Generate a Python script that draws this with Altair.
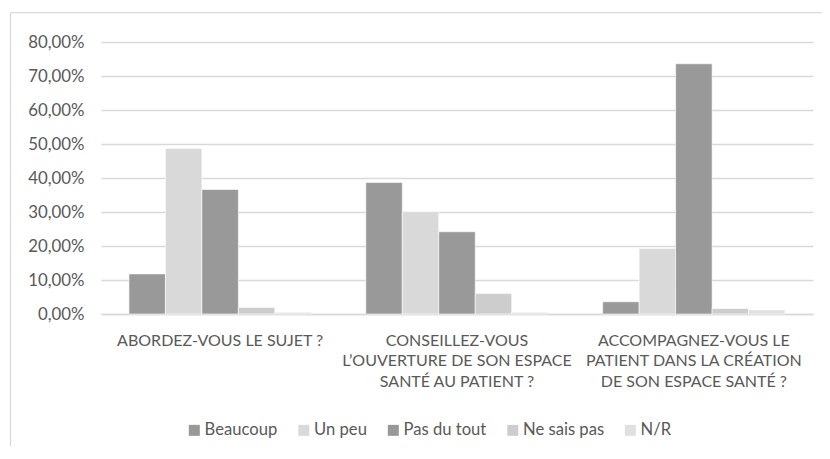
import altair as alt
import pandas as pd

# Categories (x-axis tick labels, '|' marks line breaks)
categories = [
    "ABORDEZ-VOUS LE SUJET ?",
    "CONSEILLEZ-VOUS|L’OUVERTURE DE SON ESPACE|SANTÉ AU PATIENT ?",
    "ACCOMPAGNEZ-VOUS LE|PATIENT DANS LA CRÉATION|DE SON ESPACE SANTÉ ?",
]
series = ["Beaucoup", "Un peu", "Pas du tout", "Ne sais pas", "N/R"]

# Series values (percent)
beaucoup = [11.8, 38.7, 3.6]
un_peu = [48.7, 30.1, 19.3]
pas_du_tout = [36.6, 24.2, 73.6]
ne_sais_pas = [1.9, 6.0, 1.6]
n_r = [0.5, 0.5, 1.2]

colors = ["#999999", "#d9d9d9", "#999999", "#cdcdcd", "#e0e0e0"]
y_ticks = [0.0, 0.1, 0.2, 0.3, 0.4, 0.5, 0.6, 0.7, 0.8]

values = [beaucoup, un_peu, pas_du_tout, ne_sais_pas, n_r]
rows = []
for s, vals in zip(series, values):
    for c, v in zip(categories, vals):
        rows.append({"question": c, "serie": s, "valeur": v / 100})
df = pd.DataFrame(rows)

TXT = "#595959"
GRID = "#d9d9d9"
FONT = "Lato"

bars = alt.Chart(df).mark_bar(stroke="white", strokeWidth=0.6).encode(
    x=alt.X(
        "question:N",
        sort=categories,
        scale=alt.Scale(paddingInner=0.23, paddingOuter=0.118),
        axis=alt.Axis(
            title=None,
            labelExpr="split(datum.label, '|')",
            labelAngle=0,
            labelFont=FONT,
            labelFontSize=16,
            labelColor=TXT,
            labelLineHeight=20.5,
            labelBaseline="top",
            labelPadding=18,
            labelLimit=0,
            ticks=False,
            domainColor=GRID,
            domainWidth=1.3,
        ),
    ),
    xOffset=alt.XOffset(
        "serie:N", sort=series, scale=alt.Scale(paddingInner=0, paddingOuter=0)
    ),
    y=alt.Y(
        "valeur:Q",
        scale=alt.Scale(domain=[0, 0.8], nice=False),
        axis=alt.Axis(
            title=None,
            values=y_ticks,
            labelExpr="replace(format(datum.value, '.2%'), '.', ',')",
            labelFont=FONT,
            labelFontSize=16.8,
            labelColor=TXT,
            labelPadding=17,
            ticks=False,
            domain=False,
            gridColor=GRID,
            gridWidth=1.3,
        ),
    ),
    color=alt.Color(
        "serie:N",
        sort=series,
        scale=alt.Scale(domain=series, range=colors),
        legend=alt.Legend(
            title=None,
            orient="none",
            legendX=85,
            legendY=380,
            direction="horizontal",
            columns=5,
            symbolType="square",
            symbolSize=121,
            symbolStrokeWidth=0,
            labelFont=FONT,
            labelFontSize=16.6,
            labelColor=TXT,
            labelOffset=2,
            columnPadding=17.5,
        ),
    ),
)

frame_df = pd.DataFrame({"k": [0]})
top_line = alt.Chart(frame_df).mark_rule(color=GRID, strokeWidth=1.3).encode(
    x=alt.value(-90.5), x2=alt.value(820), y=alt.value(-29.3)
)
left_line = alt.Chart(frame_df).mark_rule(color=GRID, strokeWidth=1.3).encode(
    x=alt.value(-90.5), y=alt.value(-29.3), y2=alt.value(500)
)

chart = (
    alt.layer(top_line, left_line, bars)
    .properties(
        width=712,
        height=272,
        padding={"left": 93, "top": 34, "right": 9, "bottom": 132},
        autosize=alt.AutoSizeParams(type="none"),
        background="white",
    )
    .configure_view(stroke=None)
)

chart.save("out.html", embed_options={"renderer": "svg", "actions": False})
